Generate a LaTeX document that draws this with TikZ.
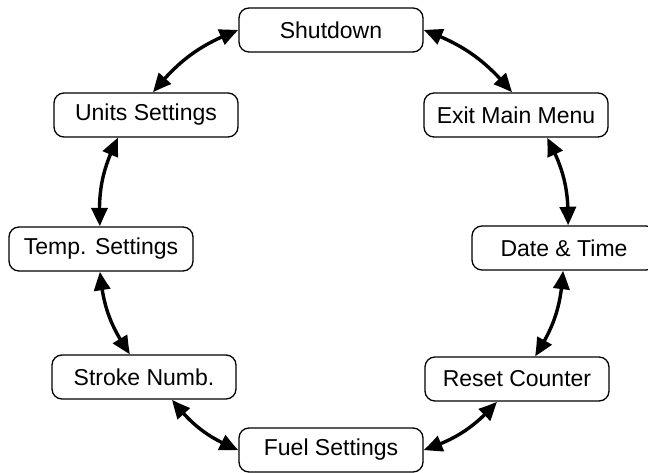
\documentclass[tikz,border=0pt]{standalone}
\usepackage{fontspec}
\setmainfont{Liberation Sans}
\usetikzlibrary{arrows.meta,bending}
\begin{document}
\begin{tikzpicture}[x=1pt,y=-1pt,
  menubox/.style={draw=black,line width=1.3pt,rounded corners=10pt,minimum width=184pt,minimum height=44pt,inner sep=0pt,font=\fontsize{23}{27}\selectfont,fill=white},
  link/.style={line width=3.4pt,{Triangle[length=19pt,width=16pt,bend]}-{Triangle[length=19pt,width=16pt,bend]},bend left=15}]
\useasboundingbox (0,0) rectangle (648,473);
\node[menubox] (shut) at (331,30) {Shutdown};
\node[menubox] (exit) at (516,115) {Exit Main Menu};
\node[menubox] (date) at (564,248) {Date \& Time};
\node[menubox] (reset) at (517,379) {Reset Counter};
\node[menubox] (fuel) at (331,450) {Fuel Settings};
\node[menubox] (stroke) at (144,377) {Stroke Numb.};
\node[menubox] (temp) at (101,249) {Temp. Settings};
\node[menubox] (units) at (146,115) {Units Settings};
\draw[link] (shut.east) to ([xshift=-4pt]exit.north);
\draw[link] ([xshift=31pt]exit.south) to ([xshift=4pt]date.north);
\draw[link] ([xshift=-1pt]date.south) to ([xshift=18pt]reset.north);
\draw[link] ([xshift=-20pt]reset.south) to (fuel.east);
\draw[link] (fuel.west) to ([xshift=28pt]stroke.south);
\draw[link] ([xshift=-14pt]stroke.north) to ([xshift=-1pt]temp.south);
\draw[link] ([xshift=-1pt]temp.north) to ([xshift=-28pt]units.south);
\draw[link] ([xshift=7pt]units.north) to (shut.west);
\end{tikzpicture}
\end{document}
